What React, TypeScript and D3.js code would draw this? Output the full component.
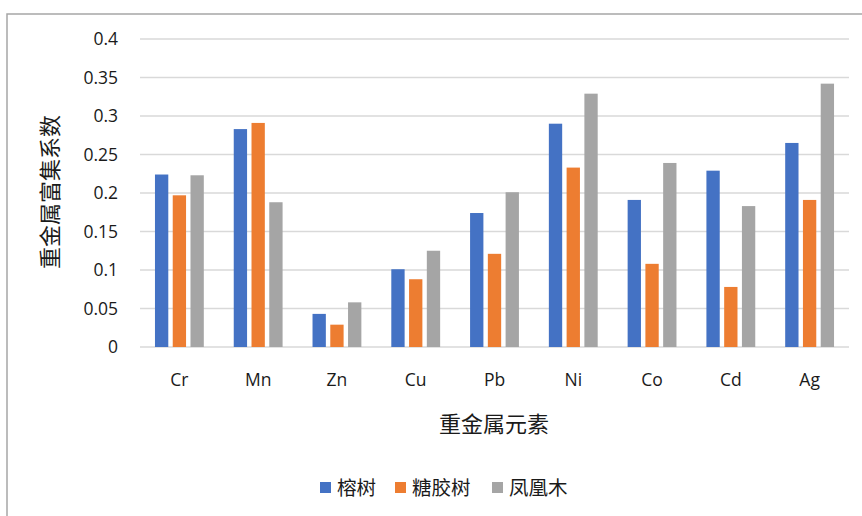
import React, { useMemo } from "react";
import * as d3 from "d3";

const WIDTH = 862;
const HEIGHT = 516;
const PLOT = { left: 140, right: 849, top: 39, bottom: 347 };

// data
const elements = ["Cr", "Mn", "Zn", "Cu", "Pb", "Ni", "Co", "Cd", "Ag"];
const seriesNames = ["榕树", "糖胶树", "凤凰木"];
const rongshu = [0.224, 0.283, 0.043, 0.101, 0.174, 0.29, 0.191, 0.229, 0.265];
const tangjiaoshu = [0.197, 0.291, 0.029, 0.088, 0.121, 0.233, 0.108, 0.078, 0.191];
const fenghuangmu = [0.223, 0.188, 0.058, 0.125, 0.201, 0.329, 0.239, 0.183, 0.342];
const yTicks = [0, 0.05, 0.1, 0.15, 0.2, 0.25, 0.3, 0.35, 0.4];
const colors = ["#4472C4", "#ED7D31", "#A5A5A5"];

const LATIN = "'Open Sans', 'Noto Sans', sans-serif";
const CJK = "'Noto Sans CJK SC', sans-serif";
const TEXT = "#1a1a1a";

export default function App() {
  const series = [rongshu, tangjiaoshu, fenghuangmu];

  const x0 = useMemo(
    () =>
      d3.scaleBand<string>().domain(elements).range([PLOT.left, PLOT.right]).paddingInner(0.38).paddingOuter(0.19),
    []
  );
  const x1 = useMemo(
    () => d3.scaleBand<string>().domain(seriesNames).range([0, x0.bandwidth()]).paddingInner(0.25),
    [x0]
  );
  const y = useMemo(() => d3.scaleLinear().domain([0, 0.4]).range([PLOT.bottom, PLOT.top]), []);

  // legend layout
  const legendItems = [
    { name: seriesNames[0], x: 320 },
    { name: seriesNames[1], x: 395 },
    { name: seriesNames[2], x: 492 },
  ];

  return (
    <div style={{ position: "fixed", left: 0, top: 0 }}>
      <svg width={WIDTH} height={HEIGHT} style={{ display: "block", background: "#fff" }}>
        <rect x={7} y={14} width={WIDTH + 20} height={HEIGHT + 20} fill="#fff" stroke="#A6A6A6" strokeWidth={1.5} />

        {yTicks.map((t) => (
          <g key={t}>
            <line x1={PLOT.left} x2={PLOT.right} y1={y(t)} y2={y(t)} stroke="#D9D9D9" strokeWidth={1.5} />
            <text
              x={118}
              y={y(t)}
              dy="0.36em"
              textAnchor="end"
              fontFamily={LATIN}
              fontSize={17.5}
              fill={TEXT}
            >
              {String(t)}
            </text>
          </g>
        ))}

        {elements.map((el, i) => (
          <g key={el} transform={`translate(${x0(el)},0)`}>
            {series.map((vals, s) => (
              <rect
                key={s}
                x={x1(seriesNames[s])}
                y={y(vals[i])}
                width={x1.bandwidth()}
                height={y(0) - y(vals[i])}
                fill={colors[s]}
              />
            ))}
          </g>
        ))}

        {elements.map((el) => (
          <text
            key={el}
            x={(x0(el) ?? 0) + x0.bandwidth() / 2}
            y={380}
            dy="0.36em"
            textAnchor="middle"
            fontFamily={LATIN}
            fontSize={17.5}
            fill={TEXT}
          >
            {el}
          </text>
        ))}

        <text x={494} y={424} dy="0.36em" textAnchor="middle" fontFamily={CJK} fontSize={22} fill={TEXT}>
          重金属元素
        </text>
        <text
          transform="translate(50,192) rotate(-90)"
          dy="0.36em"
          textAnchor="middle"
          fontFamily={CJK}
          fontSize={22}
          fill={TEXT}
        >
          重金属富集系数
        </text>

        {legendItems.map((d, i) => (
          <g key={d.name}>
            <rect x={d.x} y={482} width={11} height={11} fill={colors[i]} />
            <text x={d.x + 17} y={488} dy="0.36em" fontFamily={CJK} fontSize={19.5} fill={TEXT}>
              {d.name}
            </text>
          </g>
        ))}
      </svg>
    </div>
  );
}
